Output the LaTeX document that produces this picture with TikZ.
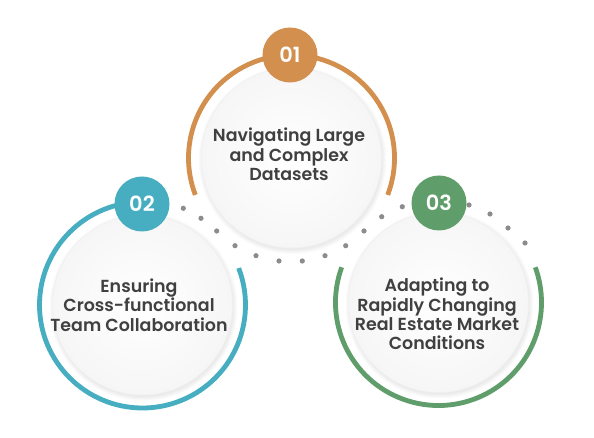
\documentclass[tikz,border=0pt]{standalone}
\usepackage{fontspec}
\setmainfont{Poppins}[BoldFont={Poppins SemiBold}]
\usetikzlibrary{calc}
\definecolor{cOne}{HTML}{D38F4E}
\definecolor{cTwo}{HTML}{46AEC0}
\definecolor{cThree}{HTML}{5F9D6B}
\definecolor{txt}{HTML}{404040}
\definecolor{dotc}{HTML}{8C8C8C}
\definecolor{disc}{HTML}{F6F6F6}
\tikzset{
  ring/.style={line width=4.8bp},
  badge/.style={circle, minimum size=55bp, inner sep=0pt, text=white, font=\bfseries\fontsize{21}{21}\selectfont},
  label/.style={align=center, text=txt, font=\bfseries\fontsize{17.5}{19.5}\selectfont},
  dotmark/.style={fill=dotc},
}
\newcommand{\softdisc}[1]{%
  \foreach \k in {5,4,3,2,1}{\fill[black,opacity=0.014] ($(#1)+(1bp,-2bp)$) circle[radius=89bp+\k bp];}
  \shade[inner color=white, outer color=disc] (#1) circle[radius=90bp];
  \draw[black!6, line width=0.6bp] (#1) circle[radius=90bp];
}
\begin{document}
\begin{tikzpicture}[x=1bp,y=1bp]
\useasboundingbox (0,0) rectangle (594,438);
\fill[white] (0,0) rectangle (594,438);
\coordinate (c1) at (291.5,280);
\coordinate (c2) at (142.5,133);
\coordinate (c3) at (438.5,135.5);
% discs
\softdisc{c2}
\softdisc{c3}
\softdisc{c1}
% rings
\draw[ring, cOne] ($(c1)+(-21:103bp)$) arc[start angle=-21, end angle=201, radius=103bp];
\draw[ring, cTwo] ($(c2)+(90:103bp)$) arc[start angle=90, end angle=381, radius=103bp];
\draw[ring, cThree] ($(c3)+(160:103bp)$) arc[start angle=160, end angle=380, radius=103bp];
% dots
\foreach \p [count=\i] in {(183.3,229.7),(201,219.7),(216.7,207),(235,192.3),(256,182.3),(279,177),(302.3,177),(325,182.3),(345.7,192.3),(364,207),(381.7,221.3),(402.3,231.3),(469,233),(490,224),(508,210),(525,195)}{
  \fill[dotmark] \p circle[radius=2.6bp];
}
% badges
\node[badge, fill=cOne] (b1) at (290,383) {01};
\node[badge, fill=cTwo] (b2) at (142,234) {02};
\node[badge, fill=cThree] (b3) at (439,235) {03};
% labels
\node[label] (t1) at (289,283.5) {Navigating Large\\and Complex\\Datasets};
\node[label] (t2) at (139,133) {Ensuring\\Cross-functional\\Team Collaboration};
\node[label] (t3) at (437,124) {Adapting to\\Rapidly Changing\\Real Estate Market\\Conditions};
\end{tikzpicture}
\end{document}
